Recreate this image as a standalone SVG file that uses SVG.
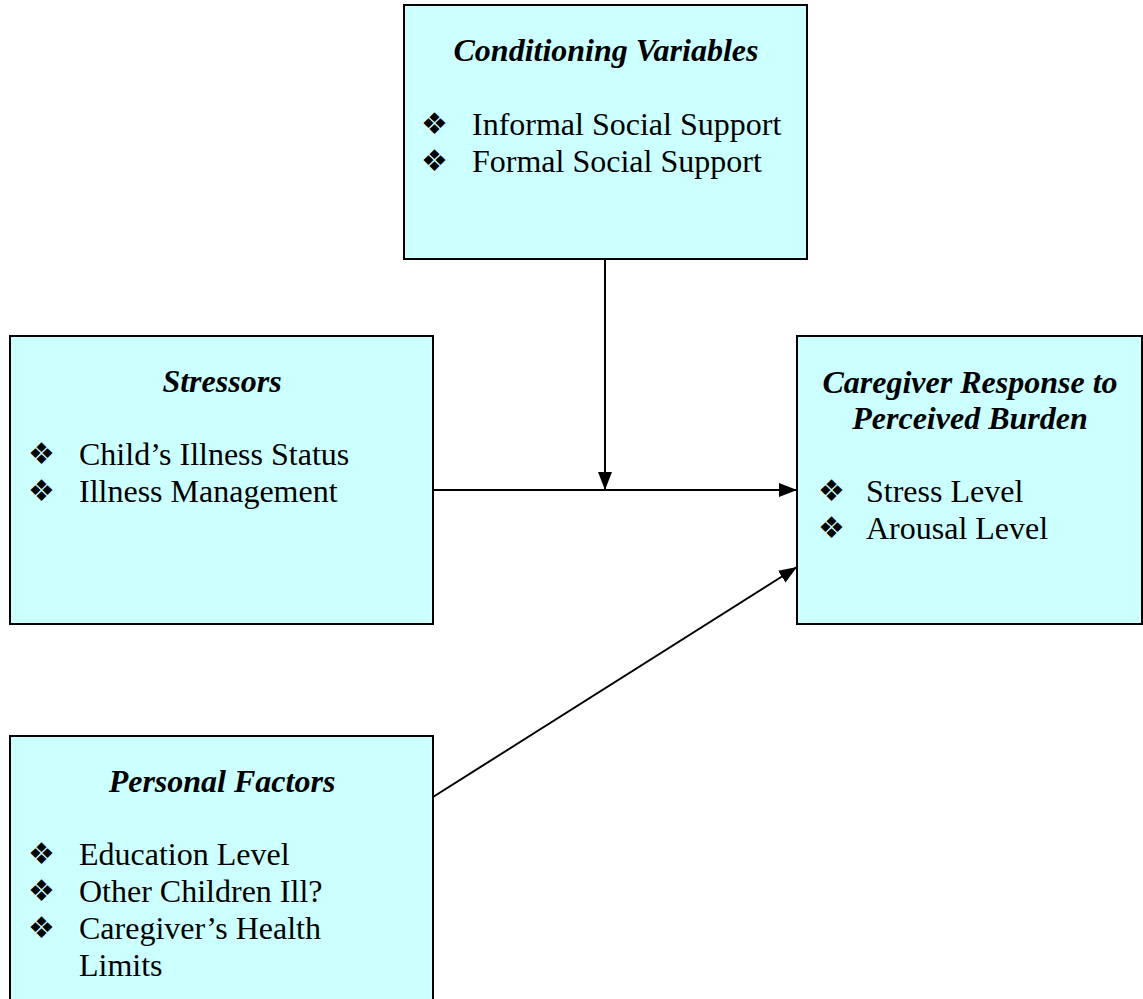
<svg xmlns="http://www.w3.org/2000/svg" width="1143" height="999" viewBox="0 0 1143 999">
<defs>
<marker id="ah" markerWidth="18" markerHeight="14" refX="18" refY="7" orient="auto" markerUnits="userSpaceOnUse">
<path d="M0,0 L18,7 L0,14 z" fill="#000"/>
</marker>
<style>
.box{fill:#CCFFFF;stroke:#000;stroke-width:2}
.t{font-family:"Liberation Serif","Times New Roman",serif;font-size:32px;font-weight:bold;font-style:italic;text-anchor:middle;fill:#000}
.i{font-family:"Liberation Serif","Times New Roman",serif;font-size:32px;fill:#000}
.b{font-family:"DejaVu Sans",sans-serif;font-size:30px;fill:#000}
.c{stroke:#000;stroke-width:2;fill:none}
</style>
</defs>
<rect width="1143" height="999" fill="#fff"/>
<g id="conditioning">
<rect class="box" x="404" y="5" width="403" height="254"/>
<text class="t" x="606" y="61">Conditioning Variables</text>
<text class="b" x="421" y="134">❖</text><text class="i" x="472" y="135">Informal Social Support</text>
<text class="b" x="421" y="171">❖</text><text class="i" x="472" y="172">Formal Social Support</text>
</g>
<g id="stressors">
<rect class="box" x="10" y="336" width="423" height="288"/>
<text class="t" x="222" y="392">Stressors</text>
<text class="b" x="28" y="464">❖</text><text class="i" x="79" y="465">Child’s Illness Status</text>
<text class="b" x="28" y="501">❖</text><text class="i" x="79" y="502">Illness Management</text>
</g>
<g id="response">
<rect class="box" x="797" y="336" width="345" height="288"/>
<text class="t" x="970" y="393">Caregiver Response to</text>
<text class="t" x="970" y="429">Perceived Burden</text>
<text class="b" x="818" y="501">❖</text><text class="i" x="866" y="502">Stress Level</text>
<text class="b" x="818" y="538">❖</text><text class="i" x="866" y="539">Arousal Level</text>
</g>
<g id="personal">
<rect class="box" x="10" y="736" width="423" height="275"/>
<text class="t" x="222" y="792">Personal Factors</text>
<text class="b" x="28" y="864">❖</text><text class="i" x="79" y="865">Education Level</text>
<text class="b" x="28" y="901">❖</text><text class="i" x="79" y="902">Other Children Ill?</text>
<text class="b" x="28" y="938">❖</text><text class="i" x="79" y="939">Caregiver’s Health</text>
<text class="i" x="79" y="976">Limits</text>
</g>
<g id="connectors">
<line class="c" x1="605" y1="259" x2="605" y2="490" marker-end="url(#ah)"/>
<line class="c" x1="433" y1="490" x2="797" y2="490" marker-end="url(#ah)"/>
<line class="c" x1="433" y1="797" x2="797" y2="567" marker-end="url(#ah)"/>
</g>
</svg>
